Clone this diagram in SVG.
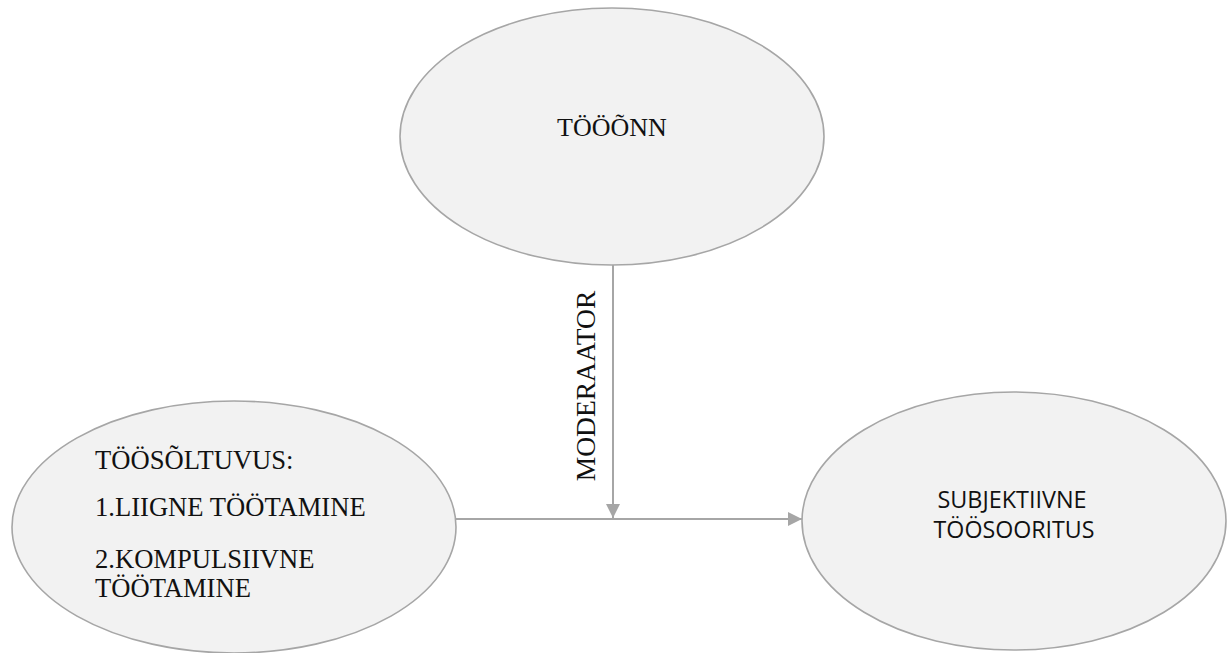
<svg xmlns="http://www.w3.org/2000/svg" width="1230" height="653" viewBox="0 0 1230 653">
<style>
.node{fill:#f2f2f2;stroke:#a6a6a6;stroke-width:1.6}
.serif{font-family:"Liberation Serif","Times New Roman",serif;fill:#111}
.sans{font-family:"Open Sans","Noto Sans",sans-serif;fill:#111}
.conn{stroke:#a6a6a6;stroke-width:2;fill:none}
</style>
<defs>
<marker id="arr" viewBox="0 0 14 14" refX="14" refY="7" markerWidth="14" markerHeight="14" markerUnits="userSpaceOnUse" orient="auto">
<path d="M0,0 L14,7 L0,14 Z" fill="#a6a6a6"/>
</marker>
</defs>
<rect width="1230" height="653" fill="#ffffff"/>
<g id="connectors">
<line class="conn" x1="456" y1="519" x2="802" y2="519" marker-end="url(#arr)"/>
<line class="conn" x1="613" y1="265" x2="613" y2="518" marker-end="url(#arr)"/>
<text class="serif" font-size="27.5" transform="translate(595,386) rotate(-90)" text-anchor="middle">MODERAATOR</text>
</g>
<g id="node-toeoenn">
<ellipse class="node" cx="612" cy="136.5" rx="212" ry="128.5"/>
<text class="serif" font-size="26" x="612" y="136" text-anchor="middle">TÖÖÕNN</text>
</g>
<g id="node-toeoesoeltuvus">
<ellipse class="node" cx="234" cy="527" rx="222" ry="126"/>
<text class="serif" font-size="26.6" x="95" y="469">TÖÖSÕLTUVUS:</text>
<text class="serif" font-size="26.6" x="95" y="516">1.LIIGNE TÖÖTAMINE</text>
<text class="serif" font-size="26.6" x="95" y="568">2.KOMPULSIIVNE</text>
<text class="serif" font-size="26.6" x="95" y="597">TÖÖTAMINE</text>
</g>
<g id="node-subjektiivne">
<ellipse class="node" cx="1014" cy="521" rx="212" ry="129"/>
<text class="sans" font-size="23.4" x="1012" y="508" text-anchor="middle">SUBJEKTIIVNE</text>
<text class="sans" font-size="23.2" x="1014" y="538" text-anchor="middle">TÖÖSOORITUS</text>
</g>
</svg>
